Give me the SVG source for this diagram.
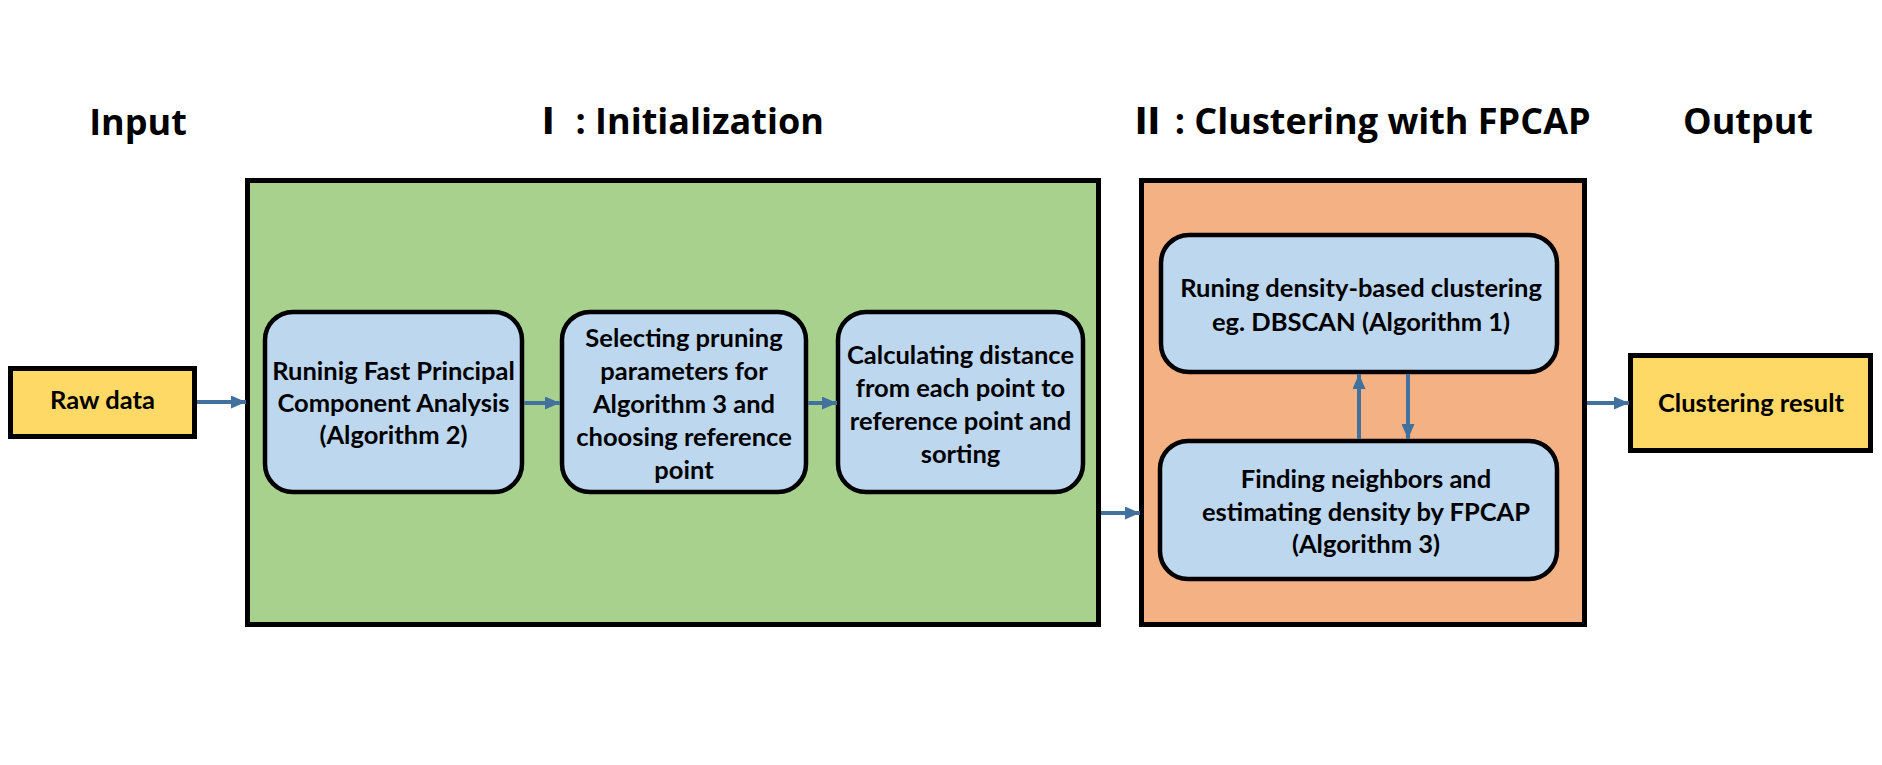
<svg xmlns="http://www.w3.org/2000/svg" width="1882" height="765" viewBox="0 0 1882 765">
<defs>
<style>
.title{font-family:"Open Sans","Noto Sans","Noto Sans CJK SC",sans-serif;font-weight:bold;font-size:36px;fill:#000;text-anchor:middle}
.num{font-family:"Noto Sans CJK SC","Noto Sans CJK JP",sans-serif;font-weight:900}
.lbl{font-family:Lato,"Liberation Sans",sans-serif;font-weight:bold;font-size:25.5px;fill:#000;text-anchor:middle}
.frame{stroke:#000;stroke-width:5}
.rbox{fill:#BDD7EE;stroke:#000;stroke-width:4.5}
.io{fill:#FFD966;stroke:#000;stroke-width:5}
.conn{stroke:#41719C;stroke-width:4;fill:none;marker-end:url(#ah)}
</style>
<marker id="ah" markerUnits="userSpaceOnUse" markerWidth="15" markerHeight="13" refX="15" refY="6.5" orient="auto">
<path d="M0,0 L15,6.5 L0,13 z" fill="#41719C"/>
</marker>
</defs>
<rect width="1882" height="765" fill="#fff"/>
<g id="titles">
<text class="title" x="138" y="135">Input</text>
<text class="title" x="677" y="134"><tspan class="num">Ⅰ</tspan> : Initialization</text>
<text class="title" x="1360" y="134"><tspan class="num">Ⅱ</tspan> : Clustering with FPCAP</text>
<text class="title" x="1748" y="134">Output</text>
</g>
<g id="stage1">
<rect class="frame" x="247.5" y="180.5" width="851" height="444" fill="#A9D18E"/>
</g>
<g id="stage2">
<rect class="frame" x="1141.5" y="180.5" width="443" height="444" fill="#F4B183"/>
</g>
<g id="raw">
<rect class="io" x="10.5" y="368.5" width="184" height="68"/>
<text class="lbl" x="102.5" y="409">Raw data</text>
</g>
<g id="fpca">
<rect class="rbox" x="265" y="312" width="257" height="180" rx="28"/>
<text class="lbl" x="393.5" y="380">Runinig Fast Principal</text>
<text class="lbl" x="393.5" y="412">Component Analysis</text>
<text class="lbl" x="393.5" y="444">(Algorithm 2)</text>
</g>
<g id="select">
<rect class="rbox" x="562" y="312" width="244" height="180" rx="28"/>
<text class="lbl" x="684" y="347">Selecting pruning</text>
<text class="lbl" x="684" y="380">parameters for</text>
<text class="lbl" x="684" y="413">Algorithm 3 and</text>
<text class="lbl" x="684" y="446">choosing reference</text>
<text class="lbl" x="684" y="479">point</text>
</g>
<g id="calc">
<rect class="rbox" x="838" y="312" width="245" height="180" rx="28"/>
<text class="lbl" x="960.5" y="364">Calculating distance</text>
<text class="lbl" x="960.5" y="397">from each point to</text>
<text class="lbl" x="960.5" y="430">reference point and</text>
<text class="lbl" x="960.5" y="463">sorting</text>
</g>
<g id="dbscan">
<rect class="rbox" x="1161" y="235" width="396" height="137" rx="28"/>
<text class="lbl" x="1361" y="297">Runing density-based clustering</text>
<text class="lbl" x="1361" y="331">eg. DBSCAN (Algorithm 1)</text>
</g>
<g id="fpcap">
<rect class="rbox" x="1160" y="441" width="397" height="138" rx="28"/>
<text class="lbl" x="1366" y="488">Finding neighbors and</text>
<text class="lbl" x="1366" y="521">estimating density by FPCAP</text>
<text class="lbl" x="1366" y="553">(Algorithm 3)</text>
</g>
<g id="result">
<rect class="io" x="1630.5" y="355.5" width="240" height="95"/>
<text class="lbl" x="1751" y="412">Clustering result</text>
</g>
<g id="connectors">
<line class="conn" x1="197" y1="402" x2="246" y2="402"/>
<line class="conn" x1="524" y1="403" x2="560" y2="403"/>
<line class="conn" x1="808" y1="403" x2="837" y2="403"/>
<line class="conn" x1="1101" y1="513" x2="1140" y2="513"/>
<line class="conn" x1="1359" y1="439" x2="1359" y2="374"/>
<line class="conn" x1="1408" y1="374" x2="1408" y2="439"/>
<line class="conn" x1="1587" y1="403" x2="1629" y2="403"/>
</g>
</svg>
